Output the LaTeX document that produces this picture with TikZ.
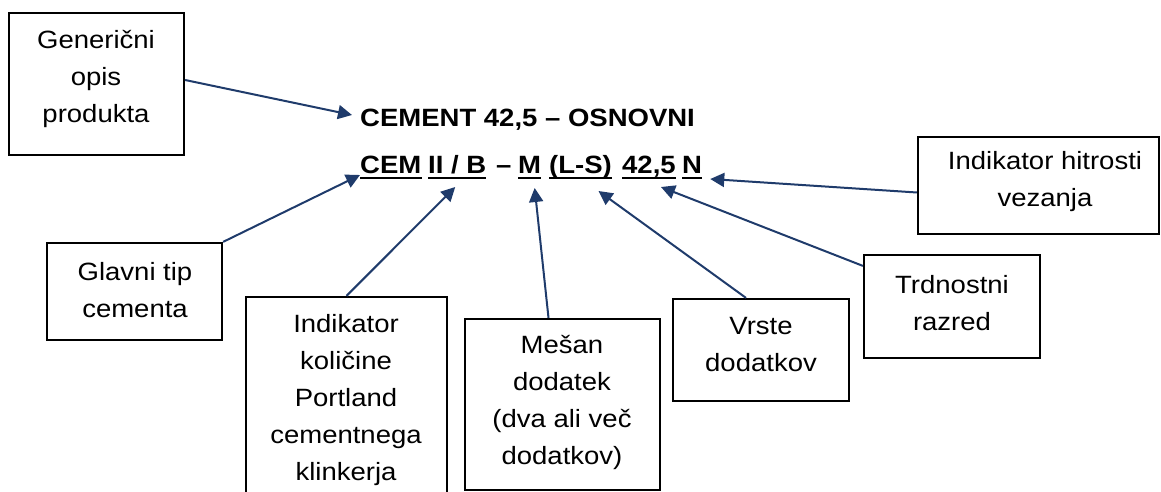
\documentclass[tikz,border=0pt]{standalone}
\usepackage{fontspec}
\setmainfont{Liberation Sans}[FakeStretch=1.1]
\usetikzlibrary{arrows.meta,calc}
\definecolor{navy}{HTML}{1F3B6B}
\begin{document}
\begin{tikzpicture}[x=1pt,y=-1pt,
  box/.style={draw=black, line width=2.2pt, inner sep=0pt},
  txt/.style={align=center, inner sep=0pt, font=\fontsize{25}{37}\selectfont},
  code/.style={anchor=base west, inner sep=0pt, font=\bfseries\fontsize{25}{30}\selectfont},
  arr/.style={draw=navy, line width=2pt, -{Triangle[length=14pt,width=14pt]}},
  uline/.style={draw=black, line width=1.8pt}]
\useasboundingbox (0,0) rectangle (1161,492);

% boxes
\node[box, minimum width=175pt, minimum height=142pt] (gen) at (96.5,84) {};
\node[box, minimum width=175pt, minimum height=97pt] (gla) at (134.5,291.5) {};
\node[box, minimum width=201pt, minimum height=213pt] (kol) at (346.5,403.5) {};
\node[box, minimum width=195pt, minimum height=171pt] (mes) at (562.5,404.5) {};
\node[box, minimum width=176pt, minimum height=102pt] (vrs) at (761,350) {};
\node[box, minimum width=176pt, minimum height=103pt] (trd) at (952,306.5) {};
\node[box, minimum width=241pt, minimum height=97pt] (hit) at (1038.5,185.5) {};

% box texts
\node[txt] (gent) at (96,79) {Generični\\opis\\produkta};
\node[txt] (glat) at (135,290) {Glavni tip\\cementa};
\node[txt] (kolt) at (346,400) {Indikator\\količine\\Portland\\cementnega\\klinkerja};
\node[txt] (mest) at (562,402) {Mešan\\dodatek\\(dva ali več\\dodatkov)};
\node[txt] (vrst) at (761,345) {Vrste\\dodatkov};
\node[txt] (trdt) at (952,303) {Trdnostni\\razred};
\node[txt] (hitt) at (1045,182) {Indikator hitrosti\\vezanja};

% code lines
\node[code] (l1) at (360,127) {CEMENT 42,5 – OSNOVNI};
\node[code] (cem) at (360,173) {CEM};
\node[code] (iib) at (428,173) {II / B};
\node[code] (dash) at (496,173) {–};
\node[code] (m) at (518,173) {M};
\node[code] (ls) at (549,173) {(L-S)};
\node[code] (num) at (622,173) {42,5};
\node[code] (n) at (682,173) {N};

\foreach \s in {cem,iib,m,ls,num,n}
  \draw[uline] ($(\s.base west)+(0,5)$) -- ($(\s.base east)+(0,5)$);

% arrows
\draw[arr] ($(gen.east)+(0,-4)$) -- ($(l1.base west)+(-8,-12)$);
\draw[arr] (gla.north east) -- ($(cem.base west)+(0,2)$);
\draw[arr] (kol.north) -- ($(iib.base)+(-2,14)$);
\draw[arr] ($(mes.north)+(-14,0)$) -- ($(m.base)+(5,15)$);
\draw[arr] ($(vrs.north)+(-15,0)$) -- ($(ls.base)+(18,18)$);
\draw[arr] ($(trd.north west)+(0,12)$) -- ($(num.base)+(12,14)$);
\draw[arr] ($(hit.west)+(0,7)$) -- ($(n.base east)+(8,6)$);
\end{tikzpicture}
\end{document}
